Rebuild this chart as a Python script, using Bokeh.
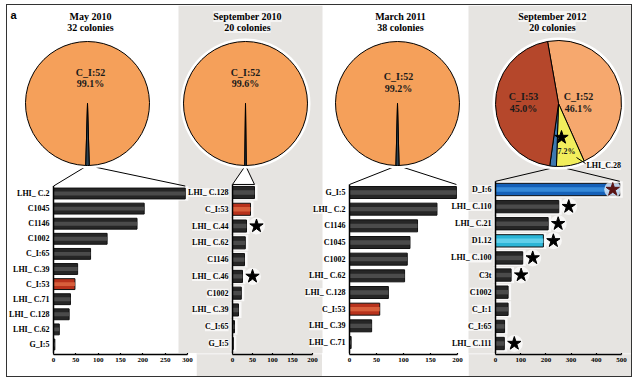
import numpy as np
from bokeh.plotting import figure
from bokeh.models import Range1d, LinearAxis, FixedTicker
from bokeh.layouts import row, column
from bokeh.embed import file_html
from bokeh.resources import INLINE
from bokeh.core.properties import value

# ---------------- data ----------------
titles = ["May 2010", "September 2010", "March 2011", "September 2012"]
colonies = ["32 colonies", "20 colonies", "38 colonies", "20 colonies"]

p1_types = ["LHI_ C.2", "C1045", "C1146", "C1002", "C_I:65", "LHI_ C.39", "C_I:53",
            "LHI_ C.71", "LHI_ C.128", "LHI_ C.62", "G_I:5"]
p1_counts = [295, 203, 187, 120, 83, 54, 48, 38, 35, 13, 3]
p1_stars = [0, 0, 0, 0, 0, 0, 0, 0, 0, 0, 0]

p2_types = ["LHI_ C.128", "C_I:53", "LHI_ C.44", "LHI_ C.62", "C1146", "LHI_ C.46",
            "C1002", "LHI_ C.39", "C_I:65", "G_I:5"]
p2_counts = [55, 45, 35, 32, 30, 25, 22, 15, 5, 2]
p2_stars = [0, 0, 1, 0, 0, 1, 0, 0, 0, 0]

p3_types = ["G_I:5", "LHI_ C.2", "C1146", "C1045", "C1002", "LHI_ C.62", "LHI_ C.128",
            "C_I:53", "LHI_ C.39", "LHI_ C.71"]
p3_counts = [198, 162, 126, 112, 107, 102, 72, 56, 41, 3]
p3_stars = [0, 0, 0, 0, 0, 0, 0, 0, 0, 0]

p4_types = ["D_I:6", "LHI_ C.110", "LHI_ C.21", "D1.12", "LHI_ C.100", "C3t", "C1002",
            "C_I:1", "C_I:65", "LHI_ C.111"]
p4_counts = [493, 251, 209, 190, 108, 62, 50, 50, 36, 35]
p4_stars = [1, 1, 1, 1, 1, 1, 0, 0, 0, 1]

x_max = [300, 200, 200, 500]
x_step = [50, 50, 50, 100]

pie1_labels = ["C_I:52", "other"]
pie1_pct = [99.1, 0.9]
pie2_labels = ["C_I:52", "other"]
pie2_pct = [99.6, 0.4]
pie3_labels = ["C_I:52", "other"]
pie3_pct = [99.2, 0.8]
pie4_labels = ["C_I:52", "LHI_C.28", "other", "C_I:53"]
pie4_pct = [46.1, 7.2, 1.7, 45.0]

# ---------------- style / layout (page pixel positions) ----------------
SERIF = value("Liberation Serif")
GREY = "#E6E4E1"
LEFT, RIGHT = 7, 631      # inner page extent
FT, FB = 5, 353           # big frame top / bottom
AX_H = 23                 # height of axis strip

pie_colors = {"C_I:52": "#F5A05A", "other": "#2C4455", "C_I:53": "#B5472B",
              "LHI_C.28": "#F2EE5C"}
pie4_colors = {"C_I:52": "#F6A86E", "other": "#3E78B0", "C_I:53": "#B5472B",
               "LHI_C.28": "#F2EE5C"}

def bar_colors(t):
    if t == "C_I:53":
        return "#B8321C", "#DB6440"
    if t == "D_I:6":
        return "#1560B8", "#3A8EDC"
    if t == "D1.12":
        return "#2BB5D6", "#66D2EC"
    return "#262626", "#505050"

panels = [
    dict(X0=7, X1=196, ax0=53, ax1=187, y0=193, y1=344, pie=(87, 103, 62), tx=90,
         bg="white", types=p1_types, counts=p1_counts, stars=p1_stars,
         pl=pie1_labels, pp=pie1_pct, pc=pie_colors, start=None,
         ptext=[("C_I:52", 90, 72), ("99.1%", 90, 83)]),
    dict(X0=196, X1=322, ax0=232, ax1=312, y0=192, y1=343, pie=(245, 103, 62), tx=247,
         bg=GREY, types=p2_types, counts=p2_counts, stars=p2_stars,
         pl=pie2_labels, pp=pie2_pct, pc=pie_colors, start=None,
         ptext=[("C_I:52", 245, 72), ("99.6%", 245, 83)]),
    dict(X0=322, X1=468, ax0=349, ax1=457, y0=192, y1=342, pie=(397, 103, 62), tx=400,
         bg="white", types=p3_types, counts=p3_counts, stars=p3_stars,
         pl=pie3_labels, pp=pie3_pct, pc=pie_colors, start=None,
         ptext=[("C_I:52", 398, 76), ("99.2%", 398, 88)]),
    dict(X0=468, X1=631, ax0=495, ax1=621, y0=189, y1=343, pie=(558, 103, 63), tx=552,
         bg=GREY, types=p4_types, counts=p4_counts, stars=p4_stars,
         pl=pie4_labels, pp=pie4_pct, pc=pie4_colors, start=350,
         ptext=[("C_I:53", 523, 96), ("45.0%", 523, 108), ("C_I:52", 578, 96), ("46.1%", 578, 108)]),
]
grey_bands = [(178, 322), (468, 631)]

big = figure(width=RIGHT - LEFT, height=FB - FT, x_range=Range1d(LEFT, RIGHT),
             y_range=Range1d(FB, FT), x_axis_location=None, y_axis_location=None,
             toolbar_location=None, output_backend="svg", min_border=0)
big.background_fill_color = "white"
big.border_fill_color = "white"
big.outline_line_color = None
big.xgrid.visible = False
big.ygrid.visible = False

big.quad(left=[g[0] for g in grey_bands], right=[g[1] for g in grey_bands],
         bottom=FB, top=FT, fill_color=GREY, line_color=None)

axis_figs = []
for i, c in enumerate(panels):
    xm = x_max[i]
    s = (c["ax1"] - c["ax0"]) / xm
    n = len(c["types"])
    dy = (c["y1"] - c["y0"]) / (n - 1)
    vn, rn = "v%d" % i, "r%d" % i
    big.extra_x_ranges[vn] = Range1d((LEFT - c["ax0"]) / s, (RIGHT - c["ax0"]) / s)
    big.extra_y_ranges[rn] = Range1d((FB - c["y0"]) / dy, (FT - c["y0"]) / dy)

    # ---- axis strip for this panel ----
    af = figure(width=c["X1"] - c["X0"], height=AX_H,
                x_range=Range1d((c["X0"] - c["ax0"]) / s, (c["X1"] - c["ax0"]) / s),
                y_range=Range1d(0, 1), x_axis_location="below", y_axis_location=None,
                toolbar_location=None, output_backend="svg", min_border=0,
                min_border_bottom=AX_H - 1)
    af.background_fill_color = c["bg"]
    af.border_fill_color = c["bg"]
    af.outline_line_color = None
    af.xgrid.visible = False
    af.ygrid.visible = False
    ax = af.xaxis[0]
    ax.ticker = FixedTicker(ticks=list(range(0, xm + 1, x_step[i])))
    ax.bounds = (0, xm)
    ax.axis_line_width = 1.5
    ax.axis_line_color = "black"
    ax.major_tick_in = 4
    ax.major_tick_out = 0
    ax.major_tick_line_width = 1.2
    ax.minor_tick_line_color = None
    ax.major_label_text_font = "Liberation Serif"
    ax.major_label_text_font_style = "bold"
    ax.major_label_text_font_size = "7px"
    ax.major_label_text_color = "black"
    ax.major_label_standoff = 3
    axis_figs.append(af)

    # ---- bars ----
    rows = list(range(n))
    counts = c["counts"]
    base = [bar_colors(t)[0] for t in c["types"]]
    hi = [bar_colors(t)[1] for t in c["types"]]
    big.hbar(y=rows, left=-2 / s, right=[v + 3 / s for v in counts], height=0.95,
             fill_color="white", fill_alpha=0.75, line_color=None,
             x_range_name=vn, y_range_name=rn)
    big.hbar(y=rows, left=0, right=counts, height=0.72, fill_color=base, line_color="#111111",
             line_width=1, x_range_name=vn, y_range_name=rn)
    big.hbar(y=rows, left=0, right=counts, height=0.26, fill_color=hi, line_color=None,
             fill_alpha=0.9, x_range_name=vn, y_range_name=rn)

    big.text(x=0, y=rows, text=c["types"], x_offset=-4, text_align="right",
             text_baseline="middle", text_font=SERIF, text_font_style="bold",
             text_font_size="8px", text_color="black", background_fill_color="white",
             background_fill_alpha=0.7, x_range_name=vn, y_range_name=rn)

    sx, sy, sc = [], [], []
    for k, st in enumerate(c["stars"]):
        if st:
            if counts[k] > 0.9 * xm:
                sx.append(counts[k] - 7 / s); sc.append("#5A1414")
            else:
                sx.append(counts[k] + 10 / s); sc.append("black")
            sy.append(k)
    if sx:
        big.scatter(x=sx, y=sy, marker="circle", size=17, fill_color="white", fill_alpha=0.7,
                    line_color=None, x_range_name=vn, y_range_name=rn)
        big.scatter(x=sx, y=sy, marker="star", size=14, fill_color=sc, line_color=sc,
                    x_range_name=vn, y_range_name=rn)

    top_y = c["y0"] - 0.36 * dy - 2
    big.segment(x0=0, y0=top_y, x1=0, y1=FB + 1, line_color="black", line_width=1.5,
                x_range_name=vn)

    cx, cy, r = c["pie"]
    tip_v = (cx - c["ax0"]) / s
    tip_y = cy + r
    if i == 1:
        big.patch(x=[0, tip_v, counts[0]], y=[top_y, tip_y, top_y], fill_color="white",
                  line_color="black", line_width=1, x_range_name=vn)
    else:
        big.segment(x0=[tip_v, tip_v], y0=[tip_y, tip_y], x1=[0, counts[0]], y1=[top_y, top_y],
                    line_color="black", line_width=1, x_range_name=vn)

    # ---- pie ----
    big.scatter(x=[cx], y=[cy], size=2 * r + 6, marker="circle", fill_color="white",
                line_color=None)
    pct = np.array(c["pp"])
    deg = pct / pct.sum() * 360.0
    b0 = 180 + deg[-1] / 2 if c["start"] is None else c["start"]
    bs = b0 + np.concatenate([[0], np.cumsum(deg)[:-1]])
    be = bs + deg
    big.wedge(x=cx, y=cy, radius=r, radius_units="screen",
              start_angle=list(np.radians(90 - bs)), end_angle=list(np.radians(90 - be)),
              direction="clock", fill_color=[c["pc"][l] for l in c["pl"]],
              line_color="black", line_width=1)

    for t, x, y in c["ptext"]:
        big.text(x=[x], y=[y], text=[t], text_align="center", text_baseline="middle",
                 text_font=SERIF, text_font_style="bold", text_font_size="10px",
                 text_color="#1a1a1a")

    big.text(x=[c["tx"], c["tx"]], y=[16, 27], text=[titles[i], colonies[i]],
             text_align="center", text_baseline="middle", text_font=SERIF,
             text_font_style="bold", text_font_size="10px", text_color="black",
             background_fill_color="white", background_fill_alpha=0.6)

big.text(x=[10], y=[8], text=["a"], text_align="left", text_baseline="top",
         text_font=value("Liberation Sans"), text_font_style="bold",
         text_font_size="11px", text_color="black")
big.scatter(x=[561], y=[137], marker="star", size=14, fill_color="black", line_color="black")
big.text(x=[566], y=[151], text=["7.2%"], text_align="center", text_baseline="middle",
         text_font=SERIF, text_font_style="bold", text_font_size="8px", text_color="#1a1a1a")
big.segment(x0=[576], y0=[157], x1=[585], y1=[163], line_color="black", line_width=1)
big.text(x=[586], y=[165], text=["LHI_C.28"], text_align="left", text_baseline="middle",
         text_font=SERIF, text_font_style="bold", text_font_size="8px", text_color="black",
         background_fill_color="white", background_fill_alpha=0.7)

layout = column(big, row(*axis_figs), margin=(4, 0, 0, 6),
                styles={"border": "1px solid #333333"})
open("out.html", "w").write(file_html(layout, INLINE))
